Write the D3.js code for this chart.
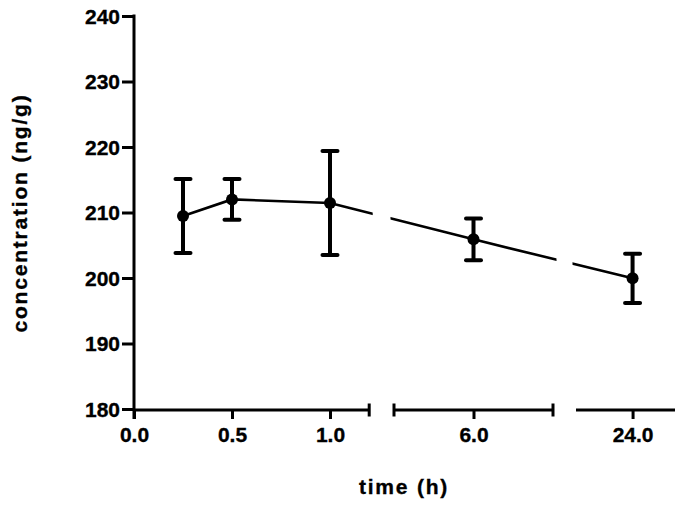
<!DOCTYPE html>
<html>
<head>
<meta charset="utf-8">
<script src="https://cdn.jsdelivr.net/npm/d3@7"></script>
<style>
  html, body { margin: 0; padding: 0; background: #fff; }
  svg { display: block; }
  text { font-family: "Liberation Sans", Arial, Helvetica, sans-serif; font-weight: bold; fill: #000; stroke: #000; stroke-width: 0.35px; }
</style>
</head>
<body>
<svg id="chart" width="683" height="508"></svg>
<script>
// ---- data ----
const times = [0.25, 0.5, 1.0, 6.0, 24.0];
const means = [209.45, 212.0, 211.45, 205.9, 199.95];
const errors = [5.65, 3.1, 7.95, 3.2, 3.75];
const yTicks = [180, 190, 200, 210, 220, 230, 240];
const yDomain = [180, 240];
// broken x axis: one domain per segment, with its tick values and labels
const xSegDomains = [[0, 1.2], [4, 8], [22, 25.5]];
const xSegTicks = [[0, 0.5, 1.0], [6.0], [24.0]];
const xLabel = "time (h)";
const yLabel = "concentration (ng/g)";

// ---- layout ----
const svg = d3.select("#chart");
const plotLeft = 134, plotTop = 16, plotBottom = 409, axisY = 410;
const segRanges = [[134, 369.2], [394, 553], [576, 675]];
const segCapped = [true, true, false];

const y = d3.scaleLinear().domain(yDomain).range([plotBottom, plotTop]);
const xScales = xSegDomains.map((d, i) => d3.scaleLinear().domain(d).range(segRanges[i]));
function xPos(v) {
  for (let i = 0; i < xSegDomains.length; i++) {
    const d = xSegDomains[i];
    if (v >= d[0] && v <= d[1]) return xScales[i](v);
  }
  return NaN;
}

// y axis
const yAxis = svg.append("g")
  .attr("transform", `translate(${plotLeft},0)`)
  .call(d3.axisLeft(y).tickValues(yTicks).tickSize(12).tickSizeOuter(0).tickPadding(2).tickFormat(d3.format("d")));
yAxis.selectAll("path, line").attr("stroke", "#000").attr("stroke-width", 3);
yAxis.select(".domain").attr("d", `M0,${plotTop - 1.5}V${axisY + 9}`);
yAxis.selectAll("text").attr("font-size", 21).attr("font-family", null).attr("dy", "0.35em");

// x axis segments
xScales.forEach((sc, i) => {
  const g = svg.append("g").attr("transform", `translate(0,${axisY})`);
  g.call(d3.axisBottom(sc).tickValues(xSegTicks[i]).tickSize(9).tickSizeOuter(0).tickPadding(8).tickFormat(d3.format(".1f")));
  g.select(".domain").remove();
  g.selectAll("line").attr("stroke", "#000").attr("stroke-width", 3);
  g.selectAll("text").attr("font-size", 21).attr("font-family", null);
  const [r0, r1] = sc.range();
  g.append("line").attr("x1", r0).attr("x2", r1).attr("y1", 0).attr("y2", 0)
    .attr("stroke", "#000").attr("stroke-width", 3);
  if (segCapped[i]) {
    const caps = i === 0 ? [r1] : [r0, r1];
    caps.forEach(cx => g.append("line").attr("x1", cx).attr("x2", cx).attr("y1", -6.5).attr("y2", 6.5)
      .attr("stroke", "#000").attr("stroke-width", 3));
  }
});

// clip for broken line
const defs = svg.append("defs");
const clip = defs.append("clipPath").attr("id", "segclip");
segRanges.forEach((r, i) => {
  const pad = 3.5;
  const x0 = i === 0 ? 0 : r[0] - pad;
  const x1 = i === segRanges.length - 1 ? 683 : r[1] + pad;
  clip.append("rect").attr("x", x0).attr("y", 0).attr("width", x1 - x0).attr("height", 508);
});

const pts = times.map((t, i) => ({ t, m: means[i], e: errors[i] }));
svg.append("path")
  .datum(pts)
  .attr("clip-path", "url(#segclip)")
  .attr("fill", "none").attr("stroke", "#000").attr("stroke-width", 2.6)
  .attr("d", d3.line().x(d => xPos(d.t)).y(d => y(d.m)));

// error bars
const eb = svg.append("g");
pts.forEach(d => {
  const cx = xPos(d.t);
  eb.append("line").attr("x1", cx).attr("x2", cx).attr("y1", y(d.m + d.e)).attr("y2", y(d.m - d.e))
    .attr("stroke", "#000").attr("stroke-width", 4);
  [d.m + d.e, d.m - d.e].forEach(v => {
    eb.append("line").attr("x1", cx - 7.5).attr("x2", cx + 7.5).attr("y1", y(v)).attr("y2", y(v))
      .attr("stroke", "#000").attr("stroke-width", 4).attr("stroke-linecap", "round");
  });
});

// points
svg.append("g").selectAll("circle").data(pts).join("circle")
  .attr("cx", d => xPos(d.t)).attr("cy", d => y(d.m)).attr("r", 6).attr("fill", "#000");

// axis titles
svg.append("text").attr("x", 404).attr("y", 494).attr("text-anchor", "middle")
  .attr("font-size", 21).attr("letter-spacing", 1.8).text(xLabel);
svg.append("text").attr("transform", "translate(27,213) rotate(-90)").attr("text-anchor", "middle")
  .attr("font-size", 21).attr("letter-spacing", 1.8).text(yLabel);
</script>
</body>
</html>
